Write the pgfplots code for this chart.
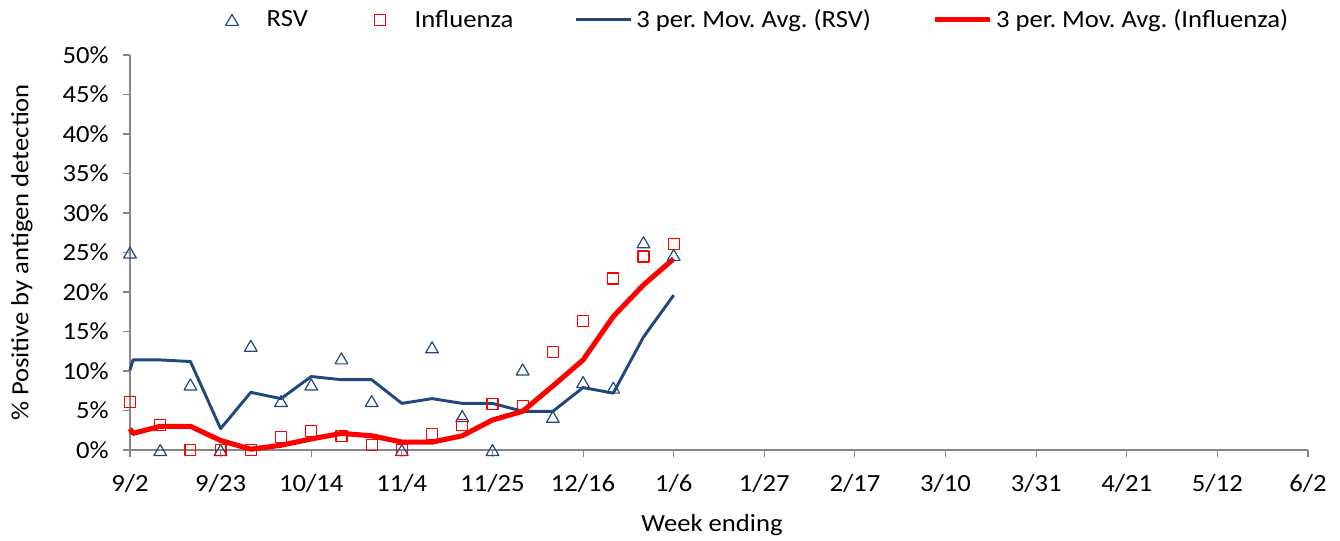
\documentclass[border=0pt]{standalone}
\usepackage{fontspec}
\setmainfont{Carlito}[FakeStretch=1.08]
\usepackage{pgfplots}
\pgfplotsset{compat=1.18}
\frenchspacing
\definecolor{rsvblue}{RGB}{31,73,125}
\definecolor{axgray}{RGB}{134,134,134}
\newcommand{\chartfont}{\fontsize{18.5}{21}\selectfont}
\pgfplotsset{
    markleg/.style={legend image code/.code={
        \path[draw=none] (-8pt,0pt) rectangle (23pt,0.1pt);
        \path[##1] plot[only marks] coordinates {(0pt,0pt)};}},
    lineleg/.style={legend image code/.code={\draw[##1] (0pt,0pt) -- (41pt,0pt);}},
}

\begin{document}
\begin{tikzpicture}
% page frame: 1340 x 541 px at 0.75pt per px
\path (-97.5pt,-68.25pt) rectangle (907.5pt,337.5pt);
\begin{axis}[
    at={(0,0)}, anchor=south west,
    scale only axis,
    width=883.5pt, height=296.25pt,
    xmin=0, xmax=39, ymin=0, ymax=50,
    clip=false,
    axis lines*=left,
    axis line style={axgray, line width=0.8pt},
    tick style={axgray, line width=0.8pt},
    tick align=outside,
    major tick length=5.5pt,
    xtick={0,3,...,39},
    xticklabels={9/2,9/23,10/14,11/4,11/25,12/16,1/6,1/27,2/17,3/10,3/31,4/21,5/12,6/2},
    ytick={0,5,...,50},
    yticklabel={\pgfmathprintnumber{\tick}\%},
    /pgf/number format/assume math mode=true,
    ticklabel style={font=\chartfont, text=black},
    yticklabel style={xshift=-7pt},
    xticklabel style={yshift=-9pt},
    label style={font=\chartfont, text=black},
    xlabel={Week ending},
    ylabel={\% Positive by antigen detection},
    xlabel style={at={(axis description cs:0.494,-0.19)}, anchor=center},
    ylabel style={at={(axis description cs:-0.0917,0.5)}, anchor=center},
    legend columns=4,
    legend style={at={(axis description cs:0.0773,1.089)}, anchor=west,
        draw=none, font=\chartfont, inner sep=0pt,
        /tikz/every odd column/.append style={column sep=1pt},
        /tikz/every even column/.append style={column sep=44pt}},
    line join=round,
]
\addplot[only marks, mark=triangle, mark size=5.5pt, markleg,
    mark options={draw=rsvblue, line width=0.9pt, yshift=-1.4pt}] coordinates {
    (0,25.0) (1,0) (2,8.3) (3,0) (4,13.2) (5,6.2) (6,8.3) (7,11.6)
    (8,6.2) (9,0) (10,13.0) (11,4.3) (12,0) (13,10.2) (14,4.2)
    (15,8.6) (16,7.9) (17,26.3) (18,24.7)
};
\addlegendentry{RSV\hspace{11pt}}
\addplot[only marks, mark=square, mark size=4.1pt, markleg,
    mark options={draw=red, line width=0.9pt}] coordinates {
    (0,6.1) (1,3.2) (2,0) (3,0) (4,0) (5,1.6) (6,2.4) (7,1.8)
    (8,0.6) (9,0) (10,2.0) (11,3.2) (12,5.8) (13,5.6) (14,12.4)
    (15,16.3) (16,21.7) (17,24.5) (18,26.1)
};
\addlegendentry{Influenza}
\addplot[rsvblue, line width=2.2pt, mark=none, lineleg] coordinates {
    (0,10.1) (0.1,11.4) (1,11.4) (2,11.2) (3,2.7) (4,7.3) (5,6.5)
    (6,9.3) (7,8.9) (8,8.9) (9,5.9) (10,6.5) (11,5.9) (12,5.9)
    (13,4.9) (14,4.9) (15,7.9) (16,7.2) (17,14.3) (18,19.6)
};
\addlegendentry{3 per. Mov. Avg. (RSV)}
\addplot[red, line width=3.8pt, mark=none, lineleg] coordinates {
    (0,2.7) (0.1,2.1) (1,3.0) (2,3.0) (3,1.2) (4,0.1) (5,0.6)
    (6,1.4) (7,2.1) (8,1.8) (9,1.0) (10,1.0) (11,1.8) (12,3.8)
    (13,4.9) (14,8.1) (15,11.4) (16,16.9) (17,20.9) (18,24.2)
};
\addlegendentry{3 per. Mov. Avg. (Influenza)}
\end{axis}
\end{tikzpicture}
\end{document}
